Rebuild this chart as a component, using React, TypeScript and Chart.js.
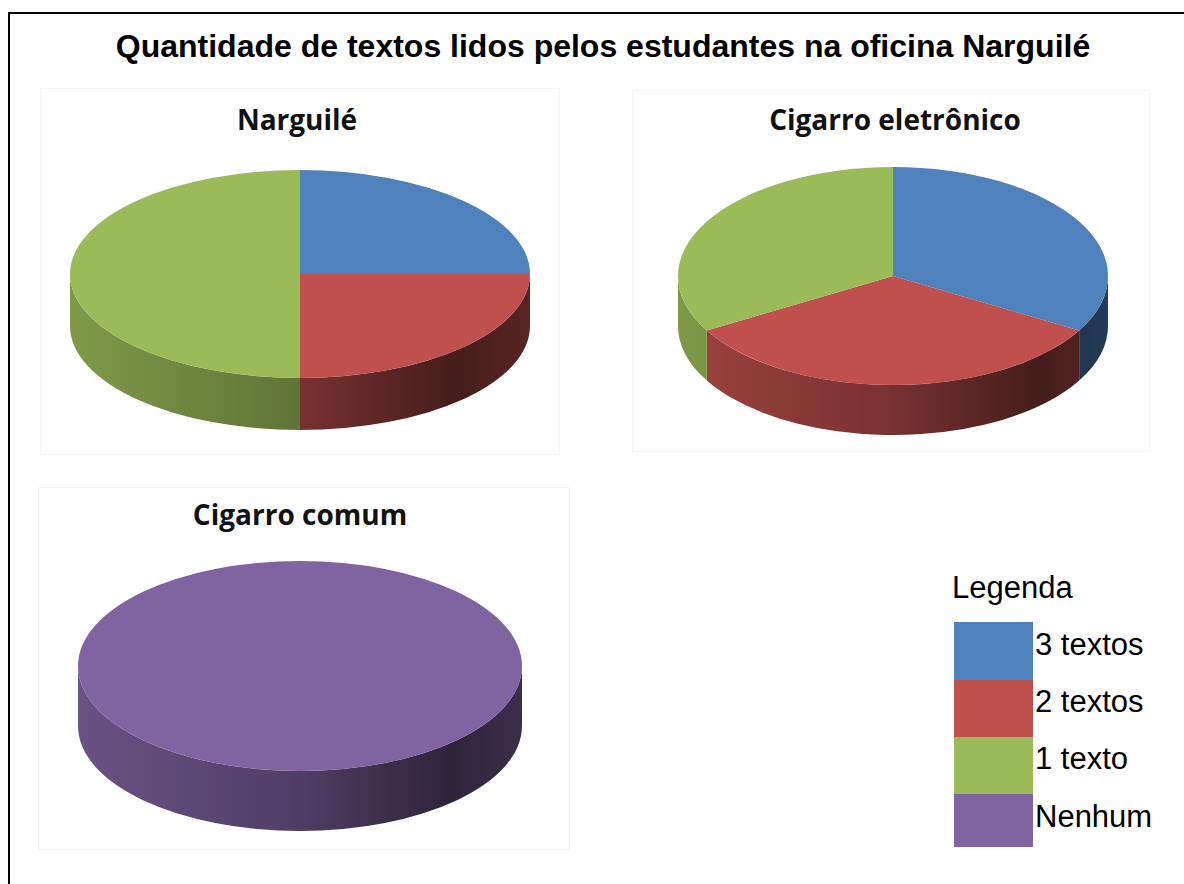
import React, { useEffect, useRef } from "react";
import { Chart, registerables } from "chart.js";

Chart.register(...registerables);

// ---------- data ----------
const mainTitle = "Quantidade de textos lidos pelos estudantes na oficina Narguilé";
const legendTitle = "Legenda";
const categories = ["3 textos", "2 textos", "1 texto", "Nenhum"];
const sliceColors = ["#4f81bd", "#c0504d", "#9bbb59", "#8064a2"];
const chartTitles = ["Narguilé", "Cigarro eletrônico", "Cigarro comum"];
const narguileValues = [25, 25, 50, 0];
const eletronicoValues = [33.3, 33.3, 33.3, 0];
const comumValues = [0, 0, 0, 100];

// ---------- helpers ----------
function shade(hex: string, f: number): string {
  const n = parseInt(hex.slice(1), 16);
  const r = Math.round(((n >> 16) & 255) * f);
  const g = Math.round(((n >> 8) & 255) * f);
  const b = Math.round((n & 255) * f);
  return `rgb(${r},${g},${b})`;
}

const pie3dPlugin = {
  id: "pie3d",
  beforeDatasetsDraw(chart: any, _args: any, opts: any) {
    const meta = chart.getDatasetMeta(0);
    const els = meta.data;
    chart.$pie3dSaved = false;
    if (!els.length) return;
    const ctx = chart.ctx as CanvasRenderingContext2D;
    const el0 = els[0];
    const cx = el0.x;
    const pcy = el0.y;
    const r = el0.outerRadius;
    const ry = opts.ry;
    const k = ry / r;
    const cy = opts.cyLocal;
    const depth = opts.depth;
    const colors = chart.data.datasets[0].backgroundColor;
    els.forEach((el: any, i: number) => {
      const s = el.startAngle;
      const e = el.endAngle;
      if (e - s <= 0) return;
      const base = colors[i];
      for (const off of [-2 * Math.PI, 0, 2 * Math.PI]) {
        const a = Math.max(s, off);
        const b = Math.min(e, off + Math.PI);
        if (b <= a) continue;
        const g = ctx.createLinearGradient(cx - r, 0, cx + r, 0);
        g.addColorStop(0, shade(base, 0.82));
        g.addColorStop(0.5, shade(base, 0.62));
        g.addColorStop(0.84, shade(base, 0.36));
        g.addColorStop(1, shade(base, 0.46));
        ctx.beginPath();
        ctx.ellipse(cx, cy, r, ry, 0, a - off, b - off, false);
        ctx.ellipse(cx, cy + depth, r, ry, 0, b - off, a - off, true);
        ctx.closePath();
        ctx.fillStyle = g;
        ctx.fill();
      }
    });
    ctx.save();
    ctx.translate(0, cy);
    ctx.scale(1, k);
    ctx.translate(0, -pcy);
    chart.$pie3dSaved = true;
  },
  afterDatasetsDraw(chart: any) {
    if (chart.$pie3dSaved) {
      chart.ctx.restore();
      chart.$pie3dSaved = false;
    }
  },
};

type PieProps = {
  values: number[];
  cx: number;
  cy: number;
  rx: number;
  ry: number;
  depth: number;
};

function Pie3D({ values, cx, cy, rx, ry, depth }: PieProps) {
  const ref = useRef<HTMLCanvasElement | null>(null);
  const S = Math.round(rx * 2);
  const cyLocal = ry + 4;
  useEffect(() => {
    if (!ref.current) return;
    const chart = new Chart(ref.current, {
      type: "pie",
      data: {
        labels: categories,
        datasets: [
          {
            data: values,
            backgroundColor: sliceColors,
            borderWidth: 0,
            clip: false as any,
          },
        ],
      },
      options: {
        responsive: false,
        maintainAspectRatio: false,
        animation: false,
        events: [],
        layout: { padding: 0 },
        plugins: {
          legend: { display: false },
          tooltip: { enabled: false },
          title: { display: false },
          pie3d: { ry, cyLocal, depth },
        } as any,
      },
      plugins: [pie3dPlugin as any],
    });
    return () => chart.destroy();
  }, []);
  return (
    <div
      style={{
        position: "absolute",
        left: cx - S / 2,
        top: cy - cyLocal,
        width: S,
        height: cyLocal + ry + depth + 6,
        overflow: "hidden",
      }}
    >
      <canvas ref={ref} width={S} height={S} style={{ display: "block", width: S, height: S }} />
    </div>
  );
}

const sansFont = "'Liberation Sans', Arial, sans-serif";
const subFont = "'Open Sans', 'Noto Sans', sans-serif";

function SubTitle({ text, cx, top }: { text: string; cx: number; top: number }) {
  return (
    <div
      style={{
        position: "absolute",
        left: cx - 300,
        width: 600,
        top,
        textAlign: "center",
        font: `700 28px ${subFont}`,
        lineHeight: "28px",
        color: "#111",
        whiteSpace: "nowrap",
      }}
    >
      {text}
    </div>
  );
}

function Panel({ left, top, width, height }: { left: number; top: number; width: number; height: number }) {
  return (
    <div
      style={{
        position: "absolute",
        left,
        top,
        width,
        height,
        border: "1px solid #f4f4f4",
        boxSizing: "border-box",
      }}
    />
  );
}

const swatchTops = [622, 680, 737, 794];
const swatchHeights = [58, 57, 57, 53];
const labelBaselines = [655, 712, 769, 827];

export default function App() {
  return (
    <div
      style={{
        position: "absolute",
        left: 0,
        top: 0,
        width: 1184,
        height: 884,
        overflow: "hidden",
        background: "#fff",
      }}
    >
      <div
        style={{
          position: "absolute",
          left: 8,
          top: 12,
          width: 1200,
          height: 900,
          borderTop: "2px solid #000",
          borderLeft: "2px solid #000",
        }}
      />
      <div
        style={{
          position: "absolute",
          left: 0,
          width: 1206,
          top: 30,
          textAlign: "center",
          font: `700 32px ${sansFont}`,
          lineHeight: "32px",
          color: "#000",
          whiteSpace: "nowrap",
        }}
      >
        {mainTitle}
      </div>

      <Panel left={40} top={88} width={520} height={367} />
      <Panel left={632} top={90} width={518} height={362} />
      <Panel left={38} top={487} width={532} height={363} />

      <SubTitle text={chartTitles[0]} cx={297} top={105} />
      <SubTitle text={chartTitles[1]} cx={895} top={105} />
      <SubTitle text={chartTitles[2]} cx={300} top={500} />

      <Pie3D values={narguileValues} cx={300} cy={274} rx={230} ry={104} depth={52} />
      <Pie3D values={eletronicoValues} cx={893} cy={276} rx={215} ry={109} depth={50} />
      <Pie3D values={comumValues} cx={300} cy={666} rx={222} ry={105} depth={60} />

      <div
        style={{
          position: "absolute",
          left: 952,
          top: 572,
          font: `400 31px ${sansFont}`,
          lineHeight: "31px",
          color: "#000",
        }}
      >
        {legendTitle}
      </div>
      {categories.map((c, i) => (
        <React.Fragment key={c}>
          <div
            style={{
              position: "absolute",
              left: 954,
              top: swatchTops[i],
              width: 79,
              height: swatchHeights[i],
              background: sliceColors[i],
            }}
          />
          <div
            style={{
              position: "absolute",
              left: 1035,
              top: labelBaselines[i] - 26,
              font: `400 31px ${sansFont}`,
              lineHeight: "31px",
              color: "#000",
              whiteSpace: "nowrap",
            }}
          >
            {c}
          </div>
        </React.Fragment>
      ))}
    </div>
  );
}
